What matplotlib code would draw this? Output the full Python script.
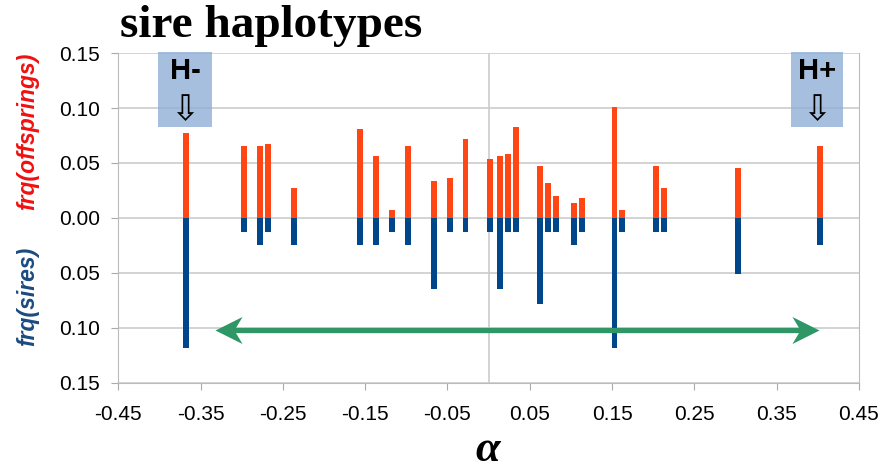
import numpy as np
from matplotlib import pyplot as plt
from matplotlib.patches import Rectangle
from matplotlib.path import Path
from matplotlib.ticker import FuncFormatter

# haplotype effect (alpha) and frequencies
alpha = [-0.368, -0.297, -0.278, -0.268, -0.237, -0.156, -0.137, -0.117, -0.098,
         -0.066, -0.047, -0.028, 0.002, 0.014, 0.024, 0.033, 0.062, 0.072, 0.082,
         0.104, 0.113, 0.153, 0.162, 0.203, 0.213, 0.303, 0.403]
frq_offsprings = [0.077, 0.065, 0.065, 0.067, 0.027, 0.081, 0.056, 0.007, 0.065,
                  0.034, 0.036, 0.072, 0.054, 0.056, 0.058, 0.083, 0.047, 0.032, 0.020,
                  0.014, 0.018, 0.101, 0.007, 0.047, 0.027, 0.045, 0.065]
frq_sires = [0.118, 0.013, 0.025, 0.013, 0.025, 0.025, 0.025, 0.013, 0.025,
             0.065, 0.013, 0.013, 0.013, 0.065, 0.013, 0.013, 0.078, 0.013, 0.013,
             0.025, 0.013, 0.118, 0.013, 0.013, 0.013, 0.051, 0.025]

x_ticks = [-0.45, -0.35, -0.25, -0.15, -0.05, 0.05, 0.15, 0.25, 0.35, 0.45]
y_ticks = [-0.15, -0.10, -0.05, 0.0, 0.05, 0.10, 0.15]

# span of the green double arrow
arrow_x = (-0.332, 0.401)
arrow_y = -0.102

orange = '#ff4614'
blue = '#00468a'
green = '#2f9666'
grid_c = '#cccccc'

fig = plt.figure(figsize=(8.8, 4.72), dpi=100)
ax = fig.add_axes([0.1344, 0.1886, 0.8416, 0.6991])

ax.bar(alpha, frq_offsprings, width=0.0072, color=orange, zorder=3)
ax.bar(alpha, [-v for v in frq_sires], width=0.0072, color=blue, zorder=3)

ax.set_xlim(-0.45, 0.45)
ax.set_ylim(-0.15, 0.15)
ax.set_xticks(x_ticks)
ax.set_yticks(y_ticks)
ax.xaxis.set_major_formatter(FuncFormatter(lambda v, p: '%.2f' % v))
ax.yaxis.set_major_formatter(FuncFormatter(lambda v, p: '%.2f' % abs(v)))
ax.tick_params(axis='both', labelsize=15, length=5, color='#aaaaaa')
ax.tick_params(axis='x', pad=11)
ax.tick_params(axis='y', pad=8)
for lab in ax.get_xticklabels() + ax.get_yticklabels():
    lab.set_family('Liberation Sans')

ax.grid(axis='y', color=grid_c, linewidth=1.2, zorder=0)
ax.axvline(0, color=grid_c, linewidth=1.2, zorder=1)
for s in ax.spines.values():
    s.set_color('#bbbbbb')
ax.spines['top'].set_visible(False)

# H- / H+ markers
for x0, x1, txt in [(-0.402, -0.336, 'H-'), (0.367, 0.431, 'H+')]:
    ax.add_patch(Rectangle((x0, 0.0828), x1 - x0, 0.0685, facecolor='#90afd6',
                           alpha=0.8, edgecolor='none', zorder=4, clip_on=False))
    xc = (x0 + x1) / 2
    ax.text(xc, 0.1335, txt, ha='center', va='center', fontsize=21,
            fontweight='bold', family='Liberation Sans', zorder=5)
    ax.text(xc, 0.0985, '\u21e9', ha='center', va='center', fontsize=25,
            family='DejaVu Sans', zorder=5)

# green double arrow: shaft + swept-back heads
head_l = Path([(0, 0), (1, 0.5), (0.7, 0), (1, -0.5), (0, 0)], closed=True)
head_r = Path([(0, 0), (-1, 0.5), (-0.7, 0), (-1, -0.5), (0, 0)], closed=True)
ax.plot([arrow_x[0] + 0.02, arrow_x[1] - 0.02], [arrow_y, arrow_y], color=green,
        linewidth=3.8, solid_capstyle='butt', zorder=5)
ax.plot([arrow_x[0]], [arrow_y], marker=head_l, markersize=39, color=green,
        markeredgewidth=0, zorder=6)
ax.plot([arrow_x[1]], [arrow_y], marker=head_r, markersize=39, color=green,
        markeredgewidth=0, zorder=6)

fig.text(120 / 880, 1 - 37 / 472, 'sire haplotypes', fontsize=34, fontweight='bold',
         family='Liberation Serif', ha='left', va='baseline')
fig.text(488 / 880, 1 - 461 / 472, '\u03b1', fontsize=32, fontweight='bold',
         style='italic', family='Liberation Serif', ha='center', va='baseline')

fig.text(0.032, 1 - 131 / 472, 'frq(offsprings)', rotation=90, ha='center',
         va='center', fontsize=16.5, style='italic', fontweight='bold',
         color='#f01010', family='Liberation Sans')
fig.text(0.032, 1 - 296 / 472, 'frq(sires)', rotation=90, ha='center',
         va='center', fontsize=16.5, style='italic', fontweight='bold',
         color='#1a4a80', family='Liberation Sans')

plt.savefig('out.png', dpi=100)
